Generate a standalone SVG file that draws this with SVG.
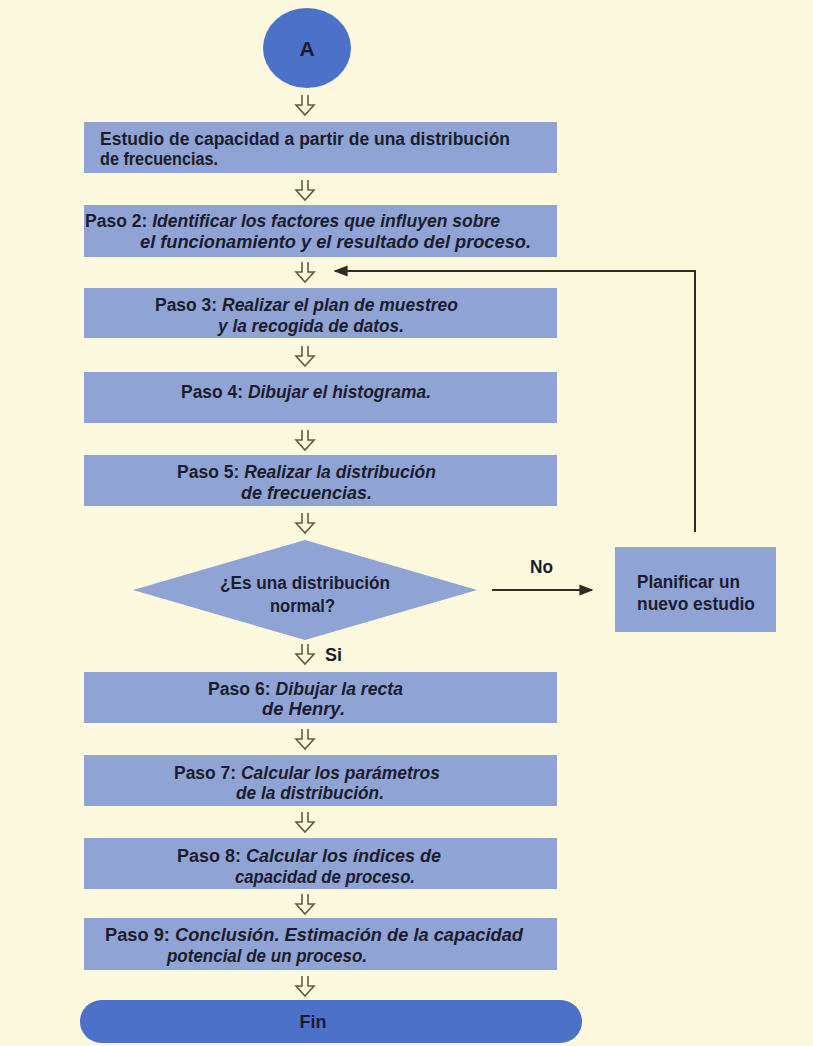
<svg xmlns="http://www.w3.org/2000/svg" width="813" height="1046" viewBox="0 0 813 1046">
  <style>
    .bg { fill: #fcf9de; }
    .box { fill: #8fa4d5; }
    .term { fill: #4c71c9; }
    .t { font-family: "Liberation Sans", Arial, sans-serif; font-size: 17.5px; font-weight: bold; fill: #1c1c2c; }
    .i { font-style: italic; }
    .big { font-size: 21px; }
    .fin { font-size: 18px; }
    .flow { fill: none; stroke: #5e5c48; stroke-width: 1.6; stroke-linejoin: miter; }
    .line { fill: none; stroke: #2e2d24; stroke-width: 2; }
  </style>
  <defs>
    <!-- hollow down arrow placed between consecutive steps -->
    <path id="down" class="flow" d="M -3 0 V 10 H -9 L 0 20 L 9 10 H 3 V 0"/>
    <marker id="head" viewBox="0 0 10 10" refX="9" refY="5" markerWidth="7" markerHeight="7" markerUnits="strokeWidth" orient="auto">
      <path d="M 0 1 L 10 5 L 0 9 z" fill="#2e2d24"/>
    </marker>
  </defs>

  <rect class="bg" x="0" y="0" width="813" height="1046"/>

  <!-- connectors -->
  <g id="connectors">
    <use href="#down" x="305" y="95"/>
    <use href="#down" x="305" y="180"/>
    <use href="#down" x="305" y="262"/>
    <use href="#down" x="305" y="346"/>
    <use href="#down" x="305" y="430"/>
    <use href="#down" x="305" y="513"/>
    <use href="#down" x="305" y="644"/>
    <use href="#down" x="305" y="729"/>
    <use href="#down" x="305" y="812"/>
    <use href="#down" x="305" y="894"/>
    <use href="#down" x="305" y="976"/>
    <!-- "No" branch to the re-plan box -->
    <line class="line" x1="492" y1="590" x2="592" y2="590" marker-end="url(#head)"/>
    <!-- loop back above step 3 -->
    <polyline class="line" points="695,532 695,271 335,271" marker-end="url(#head)"/>
    <text class="t" x="530" y="573" textLength="23" lengthAdjust="spacingAndGlyphs">No</text>
    <text class="t" x="325" y="661" textLength="17" lengthAdjust="spacingAndGlyphs">Si</text>
  </g>

  <g id="start">
    <ellipse class="term" cx="307" cy="48" rx="44" ry="40"/>
    <text class="t big" x="307" y="56" text-anchor="middle">A</text>
  </g>

  <g id="estudio">
    <rect class="box" x="84" y="122" width="473" height="51"/>
    <text class="t" x="100" y="145" textLength="410" lengthAdjust="spacingAndGlyphs">Estudio de capacidad a partir de una distribución</text>
    <text class="t" x="100" y="165" textLength="118" lengthAdjust="spacingAndGlyphs">de frecuencias.</text>
  </g>

  <g id="paso2">
    <rect class="box" x="84" y="205" width="473" height="52"/>
    <text class="t" x="85" y="227" textLength="415" lengthAdjust="spacingAndGlyphs">Paso 2: <tspan class="i">Identificar los factores que influyen sobre</tspan></text>
    <text class="t i" x="140" y="248" textLength="391" lengthAdjust="spacingAndGlyphs">el funcionamiento y el resultado del proceso.</text>
  </g>

  <g id="paso3">
    <rect class="box" x="84" y="288" width="473" height="50"/>
    <text class="t" x="155" y="311" textLength="303" lengthAdjust="spacingAndGlyphs">Paso 3: <tspan class="i">Realizar el plan de muestreo</tspan></text>
    <text class="t i" x="218" y="332" textLength="186" lengthAdjust="spacingAndGlyphs">y la recogida de datos.</text>
  </g>

  <g id="paso4">
    <rect class="box" x="84" y="372" width="473" height="51"/>
    <text class="t" x="181" y="398" textLength="250" lengthAdjust="spacingAndGlyphs">Paso 4: <tspan class="i">Dibujar el histograma.</tspan></text>
  </g>

  <g id="paso5">
    <rect class="box" x="84" y="455" width="473" height="51"/>
    <text class="t" x="177" y="478" textLength="259" lengthAdjust="spacingAndGlyphs">Paso 5: <tspan class="i">Realizar la distribución</tspan></text>
    <text class="t i" x="241" y="499" textLength="131" lengthAdjust="spacingAndGlyphs">de frecuencias.</text>
  </g>

  <g id="decision">
    <polygon class="box" points="133,590 305,540 477,590 305,640"/>
    <text class="t" x="220" y="589" textLength="170" lengthAdjust="spacingAndGlyphs">¿Es una distribución</text>
    <text class="t" x="270" y="612" textLength="65" lengthAdjust="spacingAndGlyphs">normal?</text>
  </g>

  <g id="planificar">
    <rect class="box" x="615" y="547" width="161" height="85"/>
    <text class="t" x="637" y="588" textLength="103" lengthAdjust="spacingAndGlyphs">Planificar un</text>
    <text class="t" x="637" y="610" textLength="118" lengthAdjust="spacingAndGlyphs">nuevo estudio</text>
  </g>

  <g id="paso6">
    <rect class="box" x="84" y="672" width="473" height="51"/>
    <text class="t" x="208" y="695" textLength="195" lengthAdjust="spacingAndGlyphs">Paso 6: <tspan class="i">Dibujar la recta</tspan></text>
    <text class="t i" x="262" y="715" textLength="83" lengthAdjust="spacingAndGlyphs">de Henry.</text>
  </g>

  <g id="paso7">
    <rect class="box" x="84" y="755" width="473" height="51"/>
    <text class="t" x="174" y="779" textLength="266" lengthAdjust="spacingAndGlyphs">Paso 7: <tspan class="i">Calcular los parámetros</tspan></text>
    <text class="t i" x="236" y="799" textLength="148" lengthAdjust="spacingAndGlyphs">de la distribución.</text>
  </g>

  <g id="paso8">
    <rect class="box" x="84" y="838" width="473" height="51"/>
    <text class="t" x="177" y="862" textLength="264" lengthAdjust="spacingAndGlyphs">Paso 8: <tspan class="i">Calcular los índices de</tspan></text>
    <text class="t i" x="235" y="883" textLength="180" lengthAdjust="spacingAndGlyphs">capacidad de proceso.</text>
  </g>

  <g id="paso9">
    <rect class="box" x="84" y="918" width="473" height="52"/>
    <text class="t" x="105" y="941" textLength="418" lengthAdjust="spacingAndGlyphs">Paso 9: <tspan class="i">Conclusión. Estimación de la capacidad</tspan></text>
    <text class="t i" x="167" y="962" textLength="200" lengthAdjust="spacingAndGlyphs">potencial de un proceso.</text>
  </g>

  <g id="fin">
    <rect class="term" x="80" y="1000" width="502" height="43" rx="21.5"/>
    <text class="t fin" x="313" y="1028" text-anchor="middle">Fin</text>
  </g>
</svg>
